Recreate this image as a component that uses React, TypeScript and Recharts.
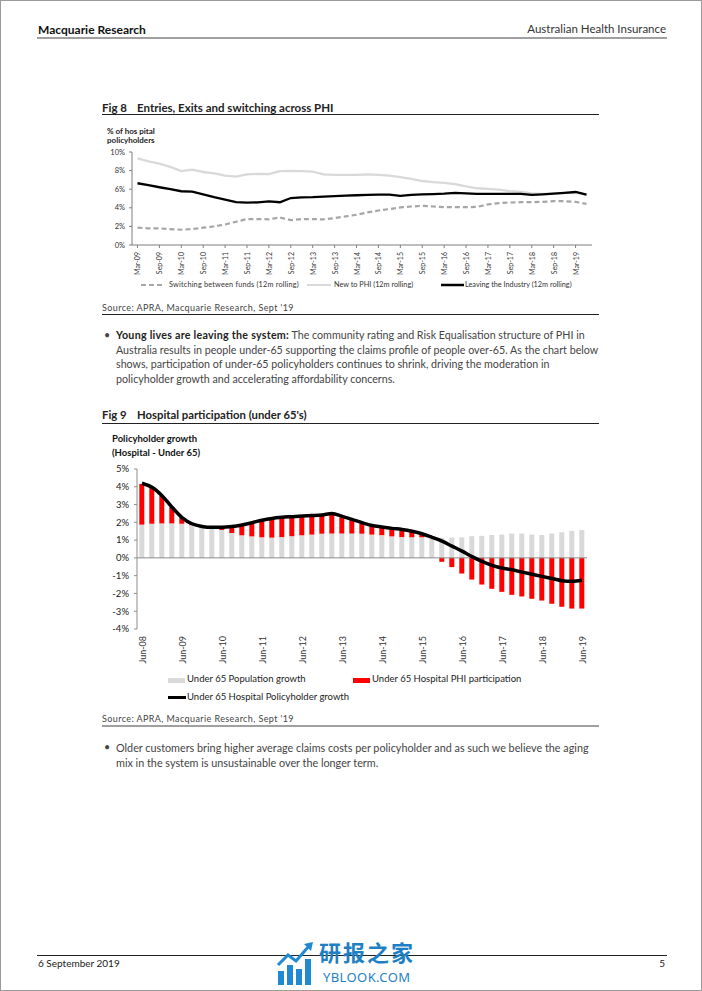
import React from 'react';
import { ComposedChart, LineChart, Line, Bar, XAxis, YAxis, ReferenceLine } from 'recharts';

// ---------- Fig 8 data ----------
const fig8Quarters = [
  'Mar-09', 'Jun-09', 'Sep-09', 'Dec-09',
  'Mar-10', 'Jun-10', 'Sep-10', 'Dec-10',
  'Mar-11', 'Jun-11', 'Sep-11', 'Dec-11',
  'Mar-12', 'Jun-12', 'Sep-12', 'Dec-12',
  'Mar-13', 'Jun-13', 'Sep-13', 'Dec-13',
  'Mar-14', 'Jun-14', 'Sep-14', 'Dec-14',
  'Mar-15', 'Jun-15', 'Sep-15', 'Dec-15',
  'Mar-16', 'Jun-16', 'Sep-16', 'Dec-16',
  'Mar-17', 'Jun-17', 'Sep-17', 'Dec-17',
  'Mar-18', 'Jun-18', 'Sep-18', 'Dec-18',
  'Mar-19', 'Jun-19',
];
const switchingFunds = [1.86, 1.79, 1.79, 1.71, 1.64, 1.71, 1.86, 2.0, 2.21, 2.5, 2.79, 2.79, 2.76, 2.96, 2.68, 2.79, 2.79, 2.75, 2.89, 3.07, 3.25, 3.5, 3.71, 3.86, 4.04, 4.14, 4.21, 4.14, 4.07, 4.07, 4.07, 4.1, 4.36, 4.5, 4.57, 4.6, 4.6, 4.64, 4.71, 4.71, 4.64, 4.43];
const newToPHI = [9.32, 9.0, 8.75, 8.4, 7.95, 8.1, 7.85, 7.7, 7.45, 7.35, 7.6, 7.65, 7.62, 7.95, 7.98, 7.95, 7.9, 7.6, 7.55, 7.55, 7.55, 7.6, 7.55, 7.45, 7.3, 7.1, 6.88, 6.75, 6.68, 6.55, 6.3, 6.1, 6.03, 5.95, 5.8, 5.7, 5.55, 5.5, 5.55, 5.6, 5.65, 5.4];
const leavingIndustry = [6.64, 6.43, 6.21, 6.0, 5.78, 5.75, 5.45, 5.14, 4.89, 4.62, 4.55, 4.58, 4.68, 4.6, 5.05, 5.12, 5.14, 5.2, 5.25, 5.3, 5.35, 5.38, 5.42, 5.42, 5.28, 5.38, 5.45, 5.48, 5.52, 5.6, 5.55, 5.5, 5.5, 5.5, 5.5, 5.5, 5.4, 5.45, 5.52, 5.6, 5.7, 5.42];
const fig8YTicks = [0, 2, 4, 6, 8, 10];

// ---------- Fig 9 data ----------
const fig9Quarters = [
  'Jun-08', 'Sep-08', 'Dec-08',
  'Mar-09', 'Jun-09', 'Sep-09', 'Dec-09',
  'Mar-10', 'Jun-10', 'Sep-10', 'Dec-10',
  'Mar-11', 'Jun-11', 'Sep-11', 'Dec-11',
  'Mar-12', 'Jun-12', 'Sep-12', 'Dec-12',
  'Mar-13', 'Jun-13', 'Sep-13', 'Dec-13',
  'Mar-14', 'Jun-14', 'Sep-14', 'Dec-14',
  'Mar-15', 'Jun-15', 'Sep-15', 'Dec-15',
  'Mar-16', 'Jun-16', 'Sep-16', 'Dec-16',
  'Mar-17', 'Jun-17', 'Sep-17', 'Dec-17',
  'Mar-18', 'Jun-18', 'Sep-18', 'Dec-18',
  'Mar-19', 'Jun-19',
];
const popGrowth = [1.87, 1.92, 1.94, 1.94, 1.92, 1.84, 1.72, 1.68, 1.57, 1.40, 1.27, 1.21, 1.16, 1.14, 1.17, 1.22, 1.27, 1.31, 1.36, 1.37, 1.37, 1.37, 1.36, 1.31, 1.28, 1.21, 1.17, 1.16, 1.16, 1.12, 1.13, 1.14, 1.16, 1.22, 1.24, 1.29, 1.31, 1.37, 1.37, 1.31, 1.29, 1.37, 1.44, 1.52, 1.57];
const phiParticipation = [2.29, 2.01, 1.54, 0.91, 0.36, 0.08, 0.04, 0.02, 0.08, 0.30, 0.53, 0.76, 0.96, 1.06, 1.08, 1.06, 1.03, 1.01, 1.0, 1.08, 0.91, 0.76, 0.57, 0.45, 0.42, 0.39, 0.38, 0.31, 0.16, 0.0, -0.22, -0.52, -0.88, -1.22, -1.5, -1.74, -1.91, -2.08, -2.17, -2.3, -2.4, -2.58, -2.75, -2.85, -2.85];
const policyholderGrowth = [4.2, 3.97, 3.5, 2.85, 2.27, 1.92, 1.77, 1.72, 1.72, 1.76, 1.85, 1.98, 2.12, 2.22, 2.28, 2.32, 2.36, 2.38, 2.41, 2.5, 2.34, 2.17, 1.98, 1.82, 1.74, 1.66, 1.6, 1.5, 1.36, 1.16, 0.94, 0.66, 0.38, 0.07, -0.2, -0.42, -0.57, -0.67, -0.8, -0.92, -1.04, -1.16, -1.28, -1.32, -1.26];
const fig9YTicks = [-4, -3, -2, -1, 0, 1, 2, 3, 4, 5];

const fig8Data = fig8Quarters.map((q, i) => ({
  q,
  switching: switchingFunds[i],
  newPHI: newToPHI[i],
  leaving: leavingIndustry[i],
}));

const fig9Data = fig9Quarters.map((q, i) => ({
  q,
  pop: popGrowth[i],
  phi: phiParticipation[i],
  growth: policyholderGrowth[i],
}));

const FONT = "Lato, 'Liberation Sans', Arial, sans-serif";

const RotTick = (props: any) => {
  const { x, y, payload, fontSize } = props;
  return (
    <text
      x={x}
      y={y}
      transform={`rotate(-90, ${x}, ${y})`}
      textAnchor="end"
      dominantBaseline="central"
      fontSize={fontSize}
      fill="#333"
      fontFamily={FONT}
    >
      {payload.value}
    </text>
  );
};

const abs = (left: number, top: number, extra: React.CSSProperties = {}): React.CSSProperties => ({
  position: 'absolute',
  left,
  top,
  whiteSpace: 'nowrap',
  ...extra,
});

export default function App() {
  return (
    <div
      style={{
        position: 'absolute',
        left: 0,
        top: 0,
        width: 702,
        height: 991,
        background: '#fff',
        boxSizing: 'border-box',
        border: '1px solid #9a9a9a',
        overflow: 'hidden',
        fontFamily: FONT,
        color: '#333',
      }}
    >
      {/* Header */}
      <div style={abs(37, 21, { fontSize: 12, fontWeight: 700, color: '#111' })}>Macquarie Research</div>
      <div style={abs(400, 21, { width: 265, textAlign: 'right', fontSize: 11.5, color: '#333' })}>Australian Health Insurance</div>
      <div style={abs(36, 36, { width: 630, height: 2, background: '#a0a0a0' })} />

      {/* Fig 8 title */}
      <div style={abs(101, 100, { fontSize: 11.5, fontWeight: 700, color: '#222' })}>Fig 8</div>
      <div style={abs(136, 100, { fontSize: 11.5, fontWeight: 700, color: '#222' })}>Entries, Exits and switching across PHI</div>
      <div style={abs(101, 113, { width: 497, height: 1, background: '#222' })} />

      <div style={abs(106, 126, { fontSize: 8, fontWeight: 700, color: '#222', lineHeight: '9px' })}>
        % of hos pital
        <br />
        policyholders
      </div>

      <div style={abs(100, 120)}>
        <LineChart
          width={500}
          height={160}
          data={fig8Data}
          margin={{ top: 31, right: 9, bottom: 6, left: 6 }}
        >
          <XAxis
            dataKey="q"
            scale="band"
            interval={1}
            height={30}
            tickSize={3}
            tickMargin={4}
            axisLine={{ stroke: '#7f7f7f' }}
            tickLine={{ stroke: '#7f7f7f' }}
            tick={<RotTick fontSize={7} />}
          />
          <YAxis
            domain={[0, 10]}
            ticks={fig8YTicks}
            width={25}
            tickSize={3}
            tickMargin={4}
            tickFormatter={(v: number) => `${v}%`}
            axisLine={{ stroke: '#7f7f7f' }}
            tickLine={{ stroke: '#7f7f7f' }}
            tick={{ fontSize: 7.5, fill: '#333', fontFamily: FONT }}
          />
          <Line dataKey="newPHI" type="linear" stroke="#d9d9d9" strokeWidth={2.3} dot={false} isAnimationActive={false} />
          <Line dataKey="switching" type="linear" stroke="#a6a6a6" strokeWidth={2.2} strokeDasharray="5 3" dot={false} isAnimationActive={false} />
          <Line dataKey="leaving" type="linear" stroke="#000" strokeWidth={2.3} dot={false} isAnimationActive={false} />
        </LineChart>
      </div>

      {/* Fig 8 legend */}
      <svg style={abs(140, 281)} width={26} height={6}>
        <line x1={0} y1={3} x2={24} y2={3} stroke="#a6a6a6" strokeWidth={2} strokeDasharray="5 3" />
      </svg>
      <div style={abs(168, 279, { fontSize: 7.3, color: '#333', letterSpacing: 0.2 })}>Switching between funds (12m rolling)</div>
      <svg style={abs(306, 281)} width={26} height={6}>
        <line x1={0} y1={3} x2={24} y2={3} stroke="#d9d9d9" strokeWidth={2} />
      </svg>
      <div style={abs(333, 279, { fontSize: 7.3, color: '#333' })}>New to PHI (12m rolling)</div>
      <svg style={abs(440, 281)} width={24} height={6}>
        <line x1={0} y1={3} x2={23} y2={3} stroke="#000" strokeWidth={2.5} />
      </svg>
      <div style={abs(464, 279, { fontSize: 7.3, color: '#333' })}>Leaving the Industry (12m rolling)</div>

      {/* Fig 8 source */}
      <div style={abs(101, 301, { fontSize: 9, color: '#444', letterSpacing: 0.4 })}>Source: APRA, Macquarie Research, Sept '19</div>
      <div style={abs(101, 313, { width: 497, height: 1, background: '#222' })} />

      {/* Bullet 1 */}
      <div style={abs(103, 327, { fontSize: 10.7, color: '#444' })}>•</div>
      <div style={abs(115, 327, { width: 500, fontSize: 10.7, lineHeight: '14.7px', color: '#444', whiteSpace: 'pre' })}>
        <b style={{ color: '#222', letterSpacing: 0.25 }}>Young lives are leaving the system:</b> The community rating and Risk Equalisation structure of PHI in{'\n'}
        Australia results in people under-65 supporting the claims profile of people over-65. As the chart below{'\n'}
        shows, participation of under-65 policyholders continues to shrink, driving the moderation in{'\n'}
        policyholder growth and accelerating affordability concerns.
      </div>

      {/* Fig 9 title */}
      <div style={abs(101, 407, { fontSize: 11.3, fontWeight: 700, color: '#222' })}>Fig 9</div>
      <div style={abs(136, 407, { fontSize: 11.3, fontWeight: 700, color: '#222' })}>Hospital participation (under 65's)</div>
      <div style={abs(101, 422, { width: 497, height: 1, background: '#222' })} />

      <div style={abs(111, 431, { fontSize: 9.5, fontWeight: 700, color: '#111', lineHeight: '14px' })}>
        Policyholder growth
        <br />
        (Hospital - Under 65)
      </div>

      <div style={abs(100, 460)}>
        <ComposedChart
          width={500}
          height={220}
          data={fig9Data}
          stackOffset="sign"
          barCategoryGap="23%"
          margin={{ top: 8, right: 14, bottom: 0, left: 6 }}
        >
          <XAxis
            dataKey="q"
            interval={3}
            height={52}
            tickSize={0}
            tickMargin={7}
            axisLine={false}
            tickLine={false}
            tick={<RotTick fontSize={9} />}
          />
          <YAxis
            domain={[-4, 5]}
            ticks={fig9YTicks}
            width={30}
            tickSize={3}
            tickMargin={5}
            tickFormatter={(v: number) => `${v}%`}
            axisLine={{ stroke: '#8c8c8c' }}
            tickLine={{ stroke: '#8c8c8c' }}
            tick={{ fontSize: 9.5, fill: '#222', fontFamily: FONT }}
          />
          <ReferenceLine y={0} stroke="#8c8c8c" />
          <Bar dataKey="pop" stackId="a" fill="#d9d9d9" isAnimationActive={false} />
          <Bar dataKey="phi" stackId="a" fill="#ff0000" isAnimationActive={false} />
          <Line dataKey="growth" type="monotone" stroke="#000" strokeWidth={3.5} dot={false} isAnimationActive={false} />
        </ComposedChart>
      </div>

      {/* Fig 9 legend */}
      <div style={abs(167, 677, { width: 17, height: 5, background: '#d9d9d9' })} />
      <div style={abs(186, 672, { fontSize: 9.5, color: '#222' })}>Under 65 Population growth</div>
      <div style={abs(352, 677, { width: 17, height: 5, background: '#ff0000' })} />
      <div style={abs(371, 672, { fontSize: 9.5, color: '#222' })}>Under 65 Hospital PHI participation</div>
      <div style={abs(167, 695, { width: 18, height: 3, background: '#000' })} />
      <div style={abs(186, 690, { fontSize: 9.5, color: '#222' })}>Under 65 Hospital Policyholder growth</div>

      {/* Fig 9 source */}
      <div style={abs(101, 712, { fontSize: 9, color: '#444', letterSpacing: 0.4 })}>Source: APRA, Macquarie Research, Sept '19</div>
      <div style={abs(101, 724, { width: 497, height: 2, background: '#a0a0a0' })} />

      {/* Bullet 2 */}
      <div style={abs(103, 739, { fontSize: 10.7, color: '#444' })}>•</div>
      <div style={abs(115, 739, { width: 500, fontSize: 10.8, lineHeight: '15px', color: '#444', whiteSpace: 'pre' })}>
        Older customers bring higher average claims costs per policyholder and as such we believe the aging{'\n'}
        mix in the system is unsustainable over the longer term.
      </div>

      {/* Footer */}
      <div style={abs(36, 954, { width: 630, height: 1, background: '#222' })} />
      <div style={abs(37, 956, { fontSize: 10, color: '#222' })}>6 September 2019</div>
      <div style={abs(650, 956, { width: 14, textAlign: 'right', fontSize: 10, color: '#222' })}>5</div>

      {/* Watermark */}
      <svg style={abs(275, 940)} width={38} height={46}>
        <rect x={2} y={30} width={6} height={14} fill="#1f8ad2" />
        <rect x={11} y={24} width={6} height={20} fill="#1f8ad2" />
        <rect x={20} y={28} width={6} height={16} fill="#1f8ad2" />
        <rect x={29} y={18} width={6} height={26} fill="#1f8ad2" />
        <polyline points="2,24 12,14 20,20 33,5" fill="none" stroke="#1f8ad2" strokeWidth={3} />
        <polygon points="28,3 37,1 35,10" fill="#1f8ad2" />
      </svg>
      <div style={abs(318, 937, { fontSize: 22, fontWeight: 700, color: '#1f7fc4', fontFamily: "'Noto Sans CJK SC', sans-serif", letterSpacing: 2, lineHeight: '26px' })}>研报之家</div>
      <div style={abs(322, 969, { fontSize: 13, color: '#1f7fc4', fontFamily: "'Noto Sans', sans-serif", letterSpacing: 0.4, lineHeight: '14px' })}>YBLOOK.COM</div>
    </div>
  );
}
